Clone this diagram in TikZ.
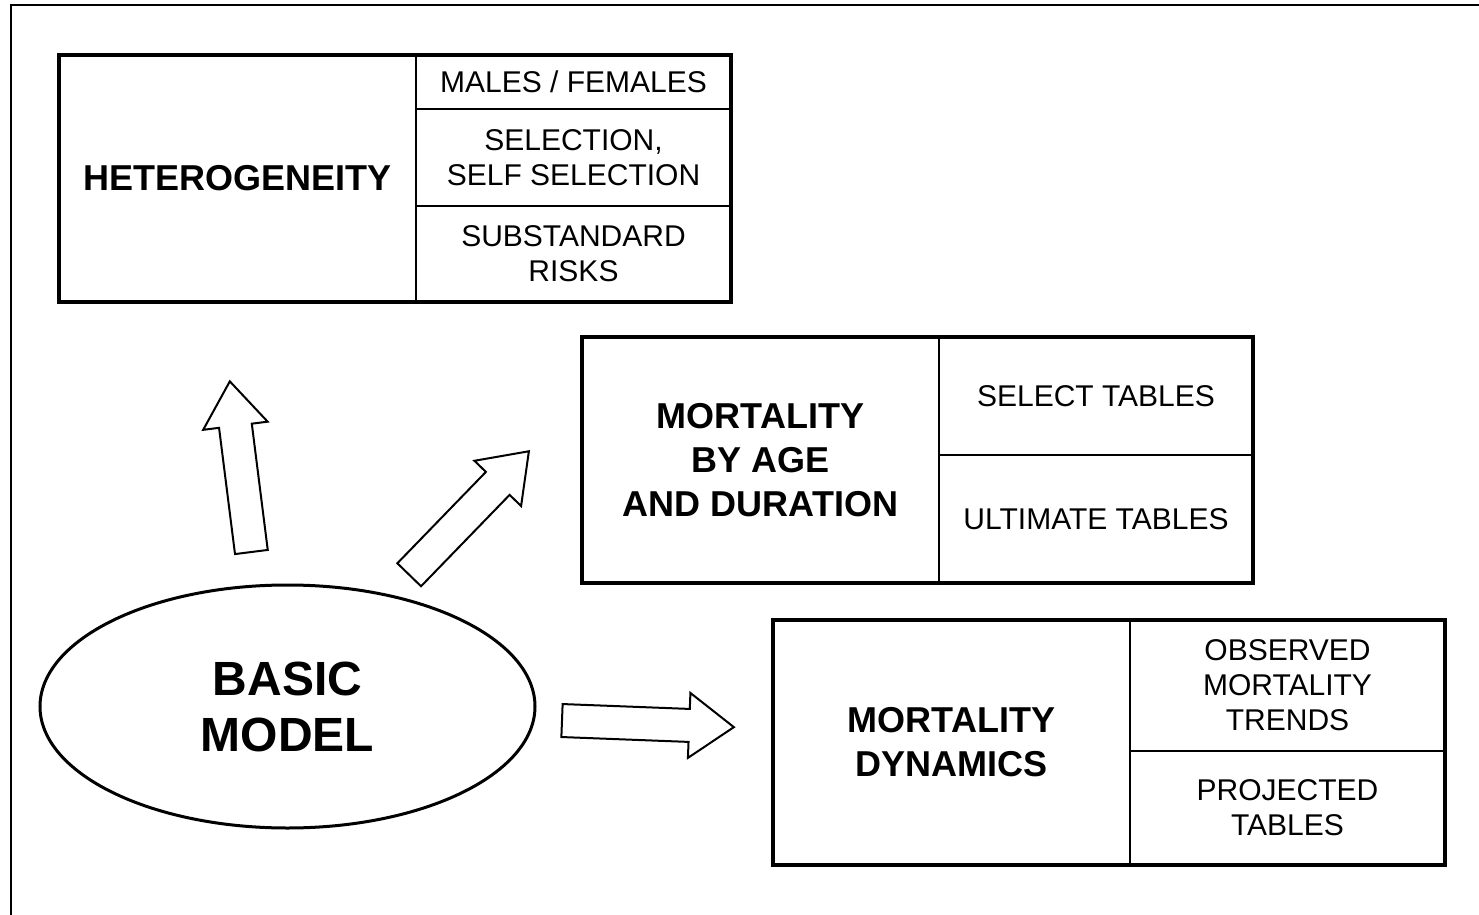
\documentclass[tikz,border=0pt]{standalone}
\usepackage{fontspec}
\setmainfont{Liberation Sans}
\usetikzlibrary{positioning,shapes.geometric,shapes.arrows}

\tikzset{
  cell/.style={draw, line width=1.2pt, inner sep=0pt, outer sep=0pt, align=center,
    font=\fontsize{15}{17.5}\selectfont},
  headcell/.style={cell, anchor=north west, font=\fontsize{18}{22}\selectfont\bfseries},
  frame/.style={line width=2pt},
  bigarrow/.style={draw, line width=1pt, single arrow, single arrow head extend=8pt,
    single arrow tip angle=72, minimum height=86pt,
    inner xsep=0pt, inner ysep=7.75pt, anchor=tail}
}

\begin{document}
\begin{tikzpicture}[x=0.5pt,y=-0.5pt]
  \useasboundingbox (0,0) rectangle (1479,915);
  \draw[line width=1pt] (10.5,930) |- (1490,5.5);

  % heterogeneity
  \node[headcell, minimum width=178.5pt, minimum height=123.5pt] (hetero) at (59,55) {HETEROGENEITY};
  \node[cell, anchor=north west, minimum width=157.5pt, minimum height=27pt] (sexes) at (hetero.north east) {MALES / FEMALES};
  \node[cell, below=0pt of sexes, minimum width=157.5pt, minimum height=48.5pt] (selfsel) {SELECTION,\\SELF SELECTION};
  \node[cell, below=0pt of selfsel, minimum width=157.5pt, minimum height=48pt] (substd) {SUBSTANDARD\\RISKS};
  \draw[frame] (hetero.north west) rectangle (substd.south east);

  % age and duration
  \node[headcell, minimum width=178.5pt, minimum height=123pt] (agedur) at (582,337) {MORTALITY\\BY AGE\\AND DURATION};
  \node[cell, anchor=north west, minimum width=157pt, minimum height=59pt] (select) at (agedur.north east) {SELECT TABLES};
  \node[cell, below=0pt of select, minimum width=157pt, minimum height=64pt] (ultimate) {ULTIMATE TABLES};
  \draw[frame] (agedur.north west) rectangle (ultimate.south east);

  % dynamics
  \node[headcell, minimum width=178.5pt, minimum height=122.5pt] (dynamics) at (773,620) {MORTALITY\\DYNAMICS};
  \node[cell, anchor=north west, minimum width=157.5pt, minimum height=65.5pt] (trends) at (dynamics.north east) {OBSERVED\\MORTALITY\\TRENDS};
  \node[cell, below=0pt of trends, minimum width=157.5pt, minimum height=57pt] (projected) {PROJECTED\\TABLES};
  \draw[frame] (dynamics.north west) rectangle (projected.south east);

  % basic model
  \node[draw, ellipse, line width=1.5pt, inner sep=0pt, align=center, minimum width=247.5pt,
    minimum height=121.5pt, font=\fontsize{24}{28}\selectfont\bfseries] (model) at (287.5,706.5) {BASIC\\MODEL};

  % block arrows
  \node[bigarrow, rotate=97.2] (toHetero) at (251.5,553) {};
  \node[bigarrow, rotate=45.9] (toAgedur) at (408.5,575.5) {};
  \node[bigarrow, rotate=-2.2] (toDynamics) at (561,720.5) {};
\end{tikzpicture}
\end{document}
